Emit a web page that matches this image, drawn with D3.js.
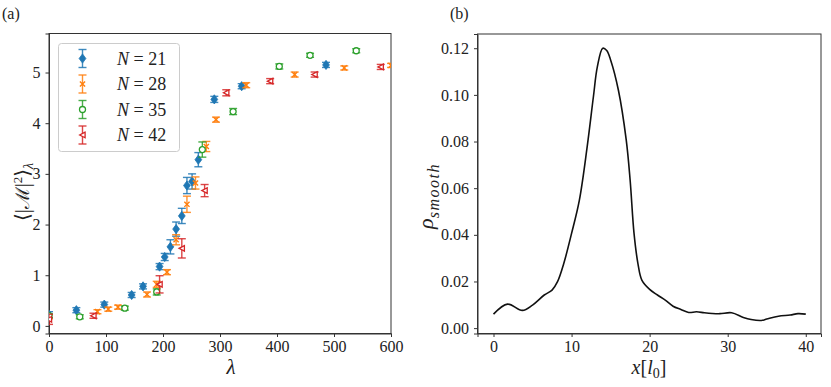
<!DOCTYPE html>
<html>
<head>
<meta charset="utf-8">
<script src="https://cdn.jsdelivr.net/npm/d3@7"></script>
<style>
  body { margin: 0; background: #fff; }
  svg, svg text { font-family: "Liberation Serif", "DejaVu Serif", serif; }
  .tick text { font-size: 16px; fill: #222; font-family: "Liberation Serif", serif; }
  .tick line, .domain { stroke: #333; }
</style>
</head>
<body>
<div id="chart-area"></div>
<script>
// panel (a): <|M|^2>_lambda vs lambda for four system sizes
const sizes = [21, 28, 35, 42]
const colors = ["#1f77b4", "#ff7f0e", "#2ca02c", "#d62728"]

const lambdaN21 = [0, 48, 97, 145, 165, 194, 203, 213, 223, 233, 242, 251, 262, 290, 338, 486]
const magN21    = [0.22, 0.31, 0.42, 0.61, 0.78, 1.17, 1.36, 1.56, 1.91, 2.17, 2.77, 2.85, 3.28, 4.47, 4.73, 5.15]
const errN21    = [0.06, 0.05, 0.05, 0.05, 0.05, 0.06, 0.07, 0.14, 0.14, 0.15, 0.16, 0.15, 0.14, 0.06, 0.05, 0.05]

const lambdaN28 = [0, 85, 104, 121, 172, 189, 207, 223, 242, 257, 276, 293, 346, 431, 518, 600]
const magN28    = [0.18, 0.28, 0.33, 0.37, 0.62, 0.82, 1.06, 1.70, 2.40, 2.82, 3.54, 4.07, 4.75, 4.96, 5.09, 5.14]
const errN28    = [0.04, 0.04, 0.04, 0.04, 0.05, 0.06, 0.05, 0.10, 0.16, 0.12, 0.10, 0.05, 0.05, 0.05, 0.04, 0.04]

const lambdaN35 = [0, 54, 133, 189, 269, 323, 404, 458, 539]
const magN35    = [0.20, 0.18, 0.35, 0.67, 3.48, 4.23, 5.12, 5.34, 5.43]
const errN35    = [0.04, 0.04, 0.04, 0.06, 0.15, 0.06, 0.05, 0.04, 0.04]

const lambdaN42 = [0, 78, 194, 233, 273, 311, 388, 466, 582]
const magN42    = [0.13, 0.20, 0.82, 1.53, 2.67, 4.60, 4.83, 4.96, 5.11]
const errN42    = [0.10, 0.05, 0.17, 0.19, 0.12, 0.06, 0.05, 0.05, 0.05]

const xTicksA = [0, 100, 200, 300, 400, 500, 600]
const yTicksA = [0, 1, 2, 3, 4, 5]

// panel (b): smoothed density profile
const rhoX = [0, 1.8, 3.7, 5, 6.5, 7.5, 8.2, 9, 10, 11, 12, 12.8, 13.3, 14, 14.5, 15, 16, 17, 17.5, 18, 18.5, 19, 20, 21, 22, 23, 24, 25, 26, 27, 28, 29, 30.5, 32, 33, 34.3, 35, 36.5, 38, 39, 40]
const rhoY = [0.006, 0.0103, 0.0076, 0.0099, 0.0142, 0.0163, 0.0199, 0.0277, 0.0406, 0.0549, 0.0778, 0.0993, 0.112, 0.120, 0.119, 0.115, 0.102, 0.0807, 0.0635, 0.0406, 0.0277, 0.0206, 0.0166, 0.0142, 0.012, 0.0094, 0.008, 0.0067, 0.0070, 0.0066, 0.0063, 0.0062, 0.0066, 0.0046, 0.0037, 0.0033, 0.0039, 0.0051, 0.0056, 0.0062, 0.006]

const xTicksB = [0, 10, 20, 30, 40]
const yTicksB = [0, 0.02, 0.04, 0.06, 0.08, 0.10, 0.12]

const svg = d3.select("#chart-area").append("svg")
    .attr("width", 831)
    .attr("height", 387)

svg.append("rect").attr("width", 831).attr("height", 387).attr("fill", "#fff")

// ---------- panel (a) ----------
const a = {left: 49, right: 391, top: 33.5, bottom: 333.5}
const xA = d3.scaleLinear().domain([0, 600]).range([a.left, a.right])
const yA = d3.scaleLinear().domain([-0.15, 5.77]).range([a.bottom, a.top])

const gA = svg.append("g")

gA.append("g")
    .attr("transform", `translate(0,${a.bottom})`)
    .call(d3.axisBottom(xA).tickValues(xTicksA).tickFormat(d3.format("d")).tickSizeOuter(0).tickSize(3.5).tickPadding(4))
    .attr("font-family", null)
gA.append("g")
    .attr("transform", `translate(${a.left},0)`)
    .call(d3.axisLeft(yA).tickValues(yTicksA).tickFormat(d3.format("d")).tickSizeOuter(0).tickSize(3.5).tickPadding(5))
    .attr("font-family", null)

gA.append("rect")
    .attr("x", a.left).attr("y", a.top)
    .attr("width", a.right - a.left).attr("height", a.bottom - a.top)
    .attr("fill", "none").attr("stroke", "#333").attr("stroke-width", 1)

const series = [
  {lam: lambdaN21, m: magN21, e: errN21},
  {lam: lambdaN28, m: magN28, e: errN28},
  {lam: lambdaN35, m: magN35, e: errN35},
  {lam: lambdaN42, m: magN42, e: errN42}
]

const clipA = svg.append("clipPath").attr("id", "clipA")
clipA.append("rect").attr("x", a.left).attr("y", a.top)
    .attr("width", a.right - a.left).attr("height", a.bottom - a.top)

const plotA = gA.append("g").attr("clip-path", "url(#clipA)")

function drawMarker(g, i, color) {
  if (i === 0) {
    g.append("path").attr("d", "M0,-4.6L3.4,0L0,4.6L-3.4,0Z").attr("fill", color).attr("stroke", color).attr("stroke-width", 0.8)
  } else if (i === 1) {
    g.append("path").attr("d", "M-2.6,-2.6L2.6,2.6M-2.6,2.6L2.6,-2.6").attr("stroke", color).attr("stroke-width", 1.4)
  } else if (i === 2) {
    g.append("circle").attr("r", 3).attr("fill", "#fff").attr("stroke", color).attr("stroke-width", 1.3)
  } else {
    g.append("path").attr("d", "M2.6,-2.8L-2.8,0L2.6,2.8Z").attr("fill", "#fff").attr("stroke", color).attr("stroke-width", 1.3)
  }
}

function drawErrorbar(g, cx, cy, top, bot, color, cap) {
  g.append("line").attr("x1", cx).attr("x2", cx).attr("y1", top).attr("y2", bot)
      .attr("stroke", color).attr("stroke-width", 1.4).attr("opacity", 0.85)
  ;[top, bot].forEach(yy => {
    g.append("line").attr("x1", cx - cap).attr("x2", cx + cap).attr("y1", yy).attr("y2", yy)
        .attr("stroke", color).attr("stroke-width", 1.4).attr("opacity", 0.85)
  })
}

series.forEach((s, i) => {
  const color = colors[i]
  const g = plotA.append("g")
  s.lam.forEach((l, k) => {
    const cx = xA(l), cy = yA(s.m[k])
    drawErrorbar(g, cx, cy, yA(s.m[k] + s.e[k]), yA(s.m[k] - s.e[k]), color, 4)
    drawMarker(g.append("g").attr("transform", `translate(${cx},${cy})`), i, color)
  })
})

// legend
const leg = gA.append("g")
leg.append("rect")
    .attr("x", 58.5).attr("y", 43.5).attr("width", 121).attr("height", 108).attr("rx", 3)
    .attr("fill", "#fff").attr("fill-opacity", 0.8).attr("stroke", "#ccc").attr("stroke-width", 1)
sizes.forEach((n, i) => {
  const ly = 58.5 + i * 25.5
  drawErrorbar(leg, 82.5, ly, ly - 9, ly + 9, colors[i], 4)
  drawMarker(leg.append("g").attr("transform", `translate(82.5,${ly})`), i, colors[i])
  const t = leg.append("text").attr("x", 117).attr("y", ly + 6).attr("font-size", 18).attr("fill", "#222")
  t.append("tspan").attr("font-style", "italic").text("N")
  t.append("tspan").text(" = " + n)
})

// axis labels (a)
gA.append("text")
    .attr("x", 231).attr("y", 374).attr("font-size", 21).attr("font-style", "italic")
    .attr("text-anchor", "middle").attr("fill", "#222").text("λ")

const yLabA = gA.append("text")
    .attr("transform", "translate(29,192) rotate(-90)")
    .attr("text-anchor", "middle").attr("font-size", 20).attr("fill", "#222")
yLabA.append("tspan").text("⟨|")
yLabA.append("tspan").attr("font-family", "DejaVu Serif").attr("font-size", 19).text("ℳ")
yLabA.append("tspan").text("|")
yLabA.append("tspan").attr("font-size", 13).attr("dy", -7).text("2")
yLabA.append("tspan").attr("dy", 7).text("⟩")
yLabA.append("tspan").attr("font-size", 14).attr("font-style", "italic").attr("dy", 4).text("λ")

svg.append("text").attr("x", 2).attr("y", 19).attr("font-size", 16).attr("fill", "#222").text("(a)")

// ---------- panel (b) ----------
const b = {left: 477.5, right: 821, top: 34, bottom: 333.5}
const xB = d3.scaleLinear().domain([-2.05, 41.95]).range([b.left, b.right])
const yB = d3.scaleLinear().domain([-0.0023, 0.1261]).range([b.bottom, b.top])

const gB = svg.append("g")
gB.append("g")
    .attr("transform", `translate(0,${b.bottom})`)
    .call(d3.axisBottom(xB).tickValues(xTicksB).tickFormat(d3.format("d")).tickSizeOuter(0).tickSize(3.5).tickPadding(4))
    .attr("font-family", null)
gB.append("g")
    .attr("transform", `translate(${b.left},0)`)
    .call(d3.axisLeft(yB).tickValues(yTicksB).tickFormat(d3.format(".2f")).tickSizeOuter(0).tickSize(3.5).tickPadding(5))
    .attr("font-family", null)

gB.append("rect")
    .attr("x", b.left).attr("y", b.top)
    .attr("width", b.right - b.left).attr("height", b.bottom - b.top)
    .attr("fill", "none").attr("stroke", "#333").attr("stroke-width", 1)

const rhoData = rhoX.map((x, i) => ({x: x, y: rhoY[i]}))
const line = d3.line()
    .x(d => xB(d.x))
    .y(d => yB(d.y))
    .curve(d3.curveCatmullRom.alpha(0.5))

gB.append("path")
    .datum(rhoData)
    .attr("fill", "none")
    .attr("stroke", "#111")
    .attr("stroke-width", 1.6)
    .attr("d", line)

const xLabB = gB.append("text")
    .attr("x", 649).attr("y", 374).attr("font-size", 20).attr("text-anchor", "middle").attr("fill", "#222")
xLabB.append("tspan").attr("font-style", "italic").text("x")
xLabB.append("tspan").text("[")
xLabB.append("tspan").attr("font-style", "italic").text("l")
xLabB.append("tspan").attr("font-size", 14).attr("dy", 4).text("0")
xLabB.append("tspan").attr("dy", -4).text("]")

const yLabB = gB.append("text")
    .attr("transform", "translate(433,196) rotate(-90)")
    .attr("text-anchor", "middle").attr("font-size", 22).attr("fill", "#222")
yLabB.append("tspan").attr("font-style", "italic").text("ρ")
yLabB.append("tspan").attr("font-size", 16).attr("font-style", "italic").attr("letter-spacing", 1.5).attr("dy", 6).text("smooth")

svg.append("text").attr("x", 450).attr("y", 19).attr("font-size", 16).attr("fill", "#222").text("(b)")
</script>
</body>
</html>
